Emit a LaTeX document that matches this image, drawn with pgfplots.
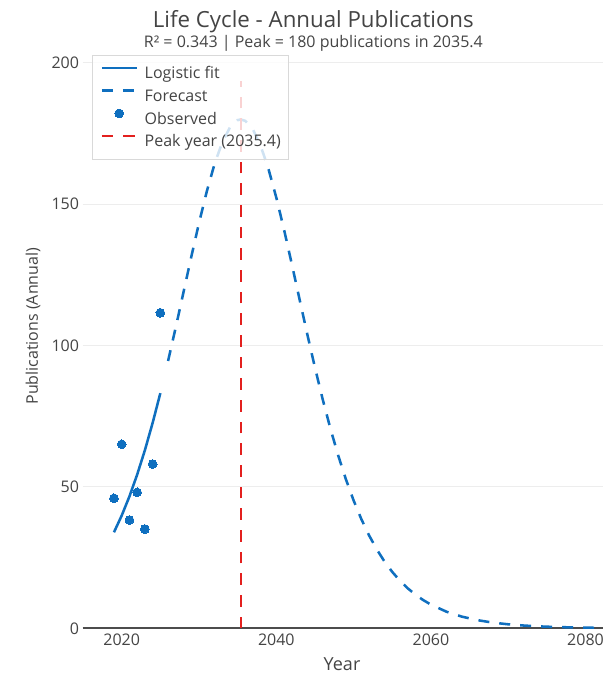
\documentclass[border=0pt]{standalone}
\usepackage{fontspec}
\setmainfont{Open Sans}
\usepackage{pgfplots}
\pgfplotsset{compat=1.18}
\definecolor{pblue}{HTML}{0F6FBF}
\definecolor{pred}{HTML}{E3201E}
\definecolor{textgray}{HTML}{444444}
\pgfplotsset{
  lineleg/.style={legend image code/.code={\draw[##1] (0pt,4.2pt) -- (26.25pt,4.2pt);}},
  markleg/.style={legend image code/.code={\draw[##1, fill opacity=1, draw opacity=1] plot coordinates {(13.1pt,4.2pt)};}},
}
\begin{document}
\begin{tikzpicture}[x=1pt,y=1pt]
\begin{axis}[
  at={(61.875pt,35pt)}, anchor=south west,
  scale only axis, width=390.375pt, height=430pt,
  xmin=2014.93, xmax=2082.26, ymin=0, ymax=202.8,
  axis x line*=bottom, axis y line*=left,
  y axis line style={draw=none},
  x axis line style={draw=black!70, line width=1.5pt, -},
  xtick={2020,2040,2060,2080}, ytick={0,50,100,150,200},
  major tick length=0pt,
  ymajorgrids,
  grid style={draw=black!7, line width=0.75pt},
  /pgf/number format/1000 sep={},
  /pgf/number format/assume math mode=true,
  xticklabel style={anchor=north, inner sep=0pt, yshift=-4pt, font=\fontsize{12}{14}\selectfont, text=textgray},
  yticklabel style={anchor=east, inner sep=0pt, xshift=-2.4pt, font=\fontsize{12}{14}\selectfont, text=textgray},
  xlabel={Year},
  xlabel style={at={(axis description cs:0.4986,0)}, anchor=base, yshift=-32pt, font=\fontsize{13.5}{16}\selectfont, text=textgray},
  ylabel={Publications (Annual)},
  ylabel style={at={(axis description cs:0,0.527)}, anchor=base, yshift=33.4pt, font=\fontsize{12}{14}\selectfont, text=textgray},
  legend cell align=left,
  legend style={at={(axis description cs:0.0188,1)}, anchor=north west,
    draw=black!15, line width=0.75pt, fill=white, fill opacity=0.8,
    text opacity=1, draw opacity=1,
    inner xsep=5.8pt, inner ysep=6.75pt, row sep=2.7pt,
    font=\fontsize{12}{14}\selectfont, text=textgray,
    nodes={inner sep=0pt, text height=10.75pt, text depth=3.25pt},
    /tikz/every odd column/.append style={column sep=5pt}},
]
\addplot[draw=pblue, line width=1.9pt, no marks, lineleg]
coordinates {(2019,33.97) (2020,39.88) (2021,46.65) (2022,54.36) (2023,63.00) (2024,72.64) (2025,83.18)};
\addlegendentry{Logistic fit}
\addplot[draw=pblue, line width=1.9pt, no marks, dash pattern=on 8.25pt off 7.5pt, lineleg]
coordinates {(2026,94.57) (2027,106.57) (2028,118.96) (2029,131.38) (2030,143.37)
(2031,154.48) (2032,164.14) (2033,171.86) (2034,177.17) (2035,179.77) (2035.4,180.00)
(2036,179.48) (2037,176.32) (2038,170.49) (2039,162.35) (2040,152.35) (2041,141.04)
(2042,128.91) (2043,116.47) (2044,104.12) (2045,92.23) (2046,81.01) (2047,70.64)
(2048,61.21) (2049,52.74) (2050,45.23) (2051,38.63) (2052,32.88) (2053,27.91)
(2054,23.62) (2055,19.95) (2056,16.82) (2057,14.16) (2058,11.91) (2059,10.00)
(2060,8.39) (2062,5.90) (2064,4.14) (2066,2.90) (2068,2.03) (2070,1.42) (2072,0.99)
(2074,0.69) (2076,0.48) (2078,0.34) (2080,0.24) (2082,0.16) (2084,0.11)};
\addlegendentry{Forecast}
\addplot[only marks, mark=*, mark size=3.3pt, color=pblue, mark options={fill=pblue, draw=pblue, line width=0pt}, markleg]
coordinates {(2019,46.0) (2020,65.1) (2021,38.3) (2022,48.1) (2023,35.1) (2024,58.1) (2025,111.6)};
\addlegendentry{Observed}
\addplot[draw=pred, line width=1.5pt, no marks, dash pattern=on 8.75pt off 7.5pt, lineleg]
coordinates {(2035.4,0) (2035.4,193.5)};
\addlegendentry{Peak year (2035.4)}
\end{axis}
\node[anchor=base, font=\fontsize{16.7}{20}\selectfont, text=textgray] at (235pt,485.8pt) {Life Cycle - Annual Publications};
\node[anchor=base, font=\fontsize{12}{14}\selectfont, text=textgray] at (235pt,470.25pt) {R² = 0.343 | Peak = 180 publications in 2035.4};
\pgfresetboundingbox
\useasboundingbox (0,0) rectangle (452.25pt,506.25pt);
\end{tikzpicture}
\end{document}
